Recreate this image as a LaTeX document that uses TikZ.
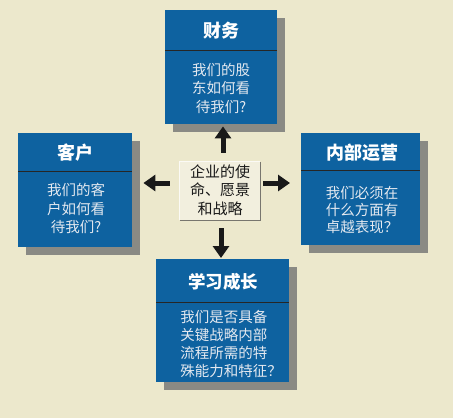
\documentclass[tikz,border=0pt]{standalone}
\usepackage{fontspec}
\newfontfamily\cjk{Noto Sans CJK SC}
\usetikzlibrary{arrows.meta,shadows}
\definecolor{bg}{RGB}{236,232,204}
\definecolor{boxblue}{RGB}{14,98,160}
\definecolor{shadowgray}{RGB}{138,138,132}
\definecolor{panel}{RGB}{242,239,222}
\definecolor{bodywhite}{RGB}{228,233,240}
\definecolor{panelline}{RGB}{120,118,110}
\begin{document}
\begin{tikzpicture}[x=1pt,y=-1pt,
  bluebox/.style={fill=boxblue, draw=none, inner sep=0pt, anchor=north west,
    general shadow={fill=shadowgray, shadow xshift=8pt, shadow yshift=-8pt}},
  titletext/.style={font=\cjk\bfseries\fontsize{18}{20}\selectfont, text=white, inner sep=0pt},
  bodytext/.style={font=\cjk\fontsize{14.5}{18.5}\selectfont, text=bodywhite, align=center, inner sep=0pt},
  divider/.style={draw=black!85, line width=1pt},
  panelbox/.style={fill=panel, draw=none, inner sep=0pt, minimum width=80pt, minimum height=58pt},
  paneltext/.style={font=\cjk\fontsize{15}{18.5}\selectfont, text=black!90, align=center, inner sep=0pt},
  bigarrow/.style={-{Triangle[width=16pt,length=12pt]}, line width=5pt, draw=black!90}
]
\fill[bg] (0,0) rectangle (453,418);
\useasboundingbox (0,0) rectangle (453,418);

% top box
\node[bluebox, minimum width=112pt, minimum height=114pt] (fin) at (165,10) {};
\node[titletext] (finT) at (221,31) {财务};
\draw[divider] (fin.west |- 0,50) -- (fin.east |- 0,50);
\node[bodytext] (finB) at (221,88) {我们的股\\东如何看\\待我们?};

% left box
\node[bluebox, minimum width=114pt, minimum height=114pt] (cust) at (18,133) {};
\node[titletext] (custT) at (75,153) {客户};
\draw[divider] (cust.west |- 0,171) -- (cust.east |- 0,171);
\node[bodytext] (custB) at (76,208.5) {我们的客\\户如何看\\待我们?};

% right box
\node[bluebox, minimum width=119pt, minimum height=112pt] (ops) at (301,133) {};
\node[titletext] (opsT) at (362,153) {内部运营};
\draw[divider] (ops.west |- 0,170) -- (ops.east |- 0,170);
\node[bodytext, font=\cjk\fontsize{14.5}{17}\selectfont] (opsB) at (362,210) {我们必须在\\什么方面有\\卓越表现？};

% bottom box
\node[bluebox, minimum width=133pt, minimum height=123pt] (learn) at (156,259) {};
\node[titletext, font=\cjk\bfseries\fontsize{17.5}{19}\selectfont] (learnT) at (223,282) {学习成长};
\draw[divider] (learn.west |- 0,302) -- (learn.east |- 0,302);
\node[bodytext, align=left, font=\cjk\fontsize{14.5}{18.3}\selectfont] (learnB) at (231,344) {我们是否具备\\关键战略内部\\流程所需的特\\殊能力和特征？};

% center panel
\node[panelbox] (ctr) at (220,191) {};
\draw[white!70!panel, line width=1pt] (ctr.south west) -- (ctr.north west) -- (ctr.north east);
\draw[panelline, line width=1.3pt] (ctr.north east) -- (ctr.south east) -- (ctr.south west);
\node[paneltext] (ctrT) at (220,190) {企业的使\\命、愿景\\和战略};

% arrows
\draw[bigarrow, shorten <=9pt, shorten >=2pt] (ctr.north -| 223,0) -- (fin.south -| 223,0);
\draw[bigarrow, shorten <=10pt, shorten >=11pt] (ctr.west |- 0,183) -- (cust.east |- 0,183);
\draw[bigarrow, shorten <=3pt, shorten >=11pt] (ctr.east |- 0,183) -- (ops.west |- 0,183);
\draw[bigarrow, shorten <=8pt, shorten >=1pt] (ctr.south -| 221,0) -- (learn.north -| 221,0);
\end{tikzpicture}
\end{document}
